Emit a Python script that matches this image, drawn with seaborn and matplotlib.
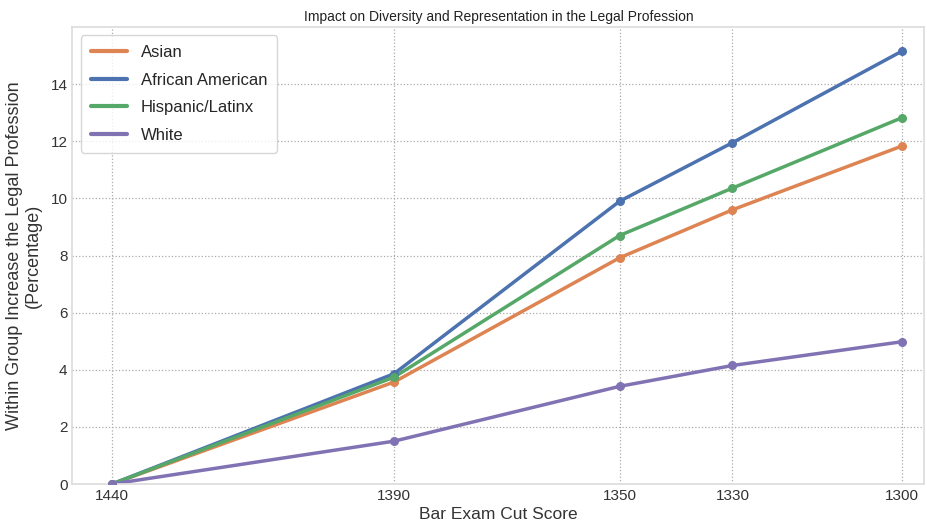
import pandas as pd
import seaborn as sns
import matplotlib.pyplot as plt

# data
cut_scores = [1440, 1390, 1350, 1330, 1300]
asian = [0, 3.57, 7.92, 9.6, 11.83]
african_american = [0, 3.86, 9.9, 11.95, 15.15]
hispanic_latinx = [0, 3.74, 8.7, 10.36, 12.82]
white = [0, 1.5, 3.42, 4.15, 4.98]

groups = ['Asian', 'African American', 'Hispanic/Latinx', 'White']
colors = ['#DD8452', '#4C72B0', '#55A868', '#8172B3']

df = pd.DataFrame({
    'Cut Score': cut_scores * 4,
    'Increase': asian + african_american + hispanic_latinx + white,
    'Group': [g for g in groups for _ in cut_scores],
})

sns.set_theme(style='whitegrid')
plt.rcParams['font.family'] = ['Liberation Sans', 'DejaVu Sans']

fig = plt.figure(figsize=(9.28, 5.29), dpi=100)
ax = fig.add_axes([0.078, 0.085, 0.918, 0.864])

sns.lineplot(data=df, x='Cut Score', y='Increase', hue='Group',
             palette=colors, linewidth=2.5, ax=ax)
for g, c in zip(groups, colors):
    sub = df[df['Group'] == g]
    ax.scatter(sub['Cut Score'], sub['Increase'], color=c, s=30, zorder=3)

ax.set_xlim(1447, 1296)
ax.set_ylim(0, 16)
ax.set_xticks(cut_scores)
ax.set_xticklabels([str(c) for c in cut_scores])
ax.set_yticks(range(0, 16, 2))
ax.tick_params(labelsize=11, colors='#333333', length=0)
ax.grid(True, linestyle=':', color='#aaaaaa', linewidth=0.9)
for s in ax.spines.values():
    s.set_color('#dddddd')

ax.set_title('Impact on Diversity and Representation in the Legal Profession',
             fontsize=10, color='#222222', pad=4)
ax.set_xlabel('Bar Exam Cut Score', fontsize=12.5, color='#333333', labelpad=3)
ax.set_ylabel('Within Group Increase the Legal Profession\n(Percentage)',
              fontsize=13, color='#333333', labelpad=6)

leg = ax.legend(loc='upper left', fontsize=12, frameon=True,
                handlelength=2.2, labelspacing=0.75, borderpad=0.6)
for line in leg.get_lines():
    line.set_linewidth(3)

fig.savefig('out.png', dpi=100)
